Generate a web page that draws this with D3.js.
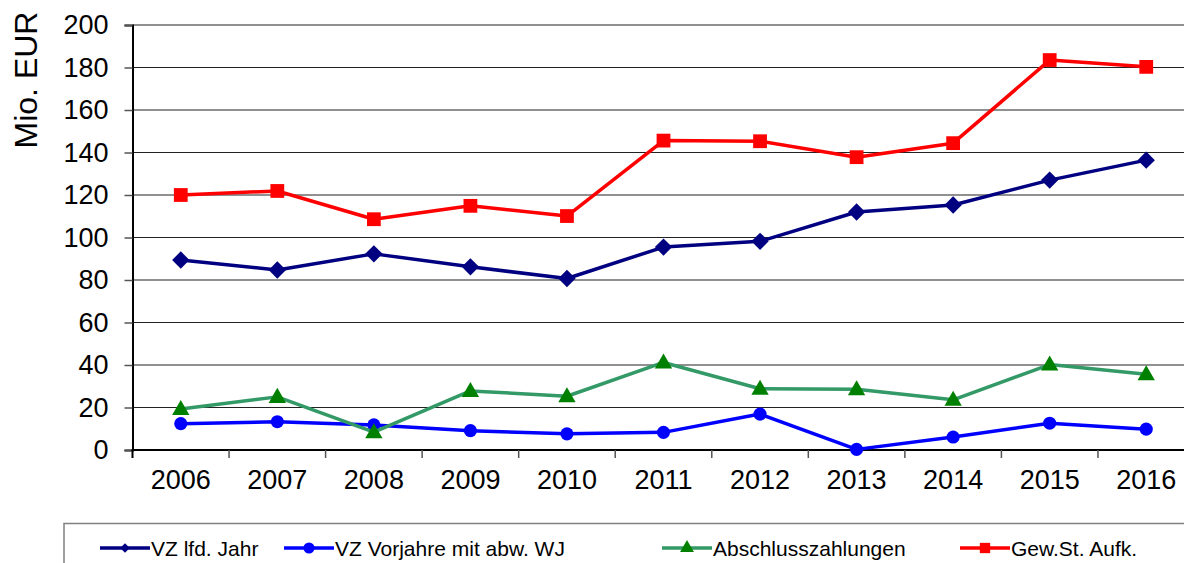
<!DOCTYPE html>
<html>
<head>
<meta charset="utf-8">
<script src="https://cdn.jsdelivr.net/npm/d3@7"></script>
<style>
  body { margin: 0; background: #fff; }
  svg { display: block; font-family: "Liberation Sans", Arial, sans-serif; }
</style>
</head>
<body>
<svg id="chart" width="1184" height="563"></svg>
<script>
const years = ["2006", "2007", "2008", "2009", "2010", "2011", "2012", "2013", "2014", "2015", "2016"];
const vzLfdJahr = [89.4, 84.7, 92.3, 86.2, 80.7, 95.5, 98.2, 112, 115.3, 127, 136.4];
const vzVorjahre = [12.4, 13.3, 11.8, 9.1, 7.6, 8.3, 16.9, 0.3, 6.1, 12.6, 9.8];
const abschluss = [19.3, 25, 8.4, 27.8, 25.3, 41.2, 28.8, 28.6, 23.6, 40.2, 35.7];
const gewSt = [120, 121.9, 108.6, 114.9, 110.1, 145.6, 145.3, 137.8, 144.4, 183.5, 180.3];
const yTicks = [0, 20, 40, 60, 80, 100, 120, 140, 160, 180, 200];
const seriesNames = ["VZ lfd. Jahr", "VZ Vorjahre mit abw. WJ", "Abschlusszahlungen", "Gew.St. Aufk."];

const series = [
  { name: seriesNames[0], values: vzLfdJahr, line: "#000080", fill: "#000080", shape: "diamond" },
  { name: seriesNames[1], values: vzVorjahre, line: "#0000ff", fill: "#0000ff", shape: "circle" },
  { name: seriesNames[2], values: abschluss, line: "#339966", fill: "#008000", shape: "triangle" },
  { name: seriesNames[3], values: gewSt, line: "#ff0000", fill: "#ff0000", shape: "square" }
];

const svg = d3.select("#chart");
const plotLeft = 132.5, plotRight = 1194.5, plotTop = 25, plotBottom = 450;

const x = d3.scaleBand().domain(years).range([plotLeft, plotRight]).padding(0);
const y = d3.scaleLinear().domain([0, 200]).range([plotBottom, plotTop]);
const cx = (d) => x(d) + x.bandwidth() / 2;

// gridlines
svg.append("g")
  .selectAll("line")
  .data(yTicks.filter((t) => t > 0))
  .enter()
  .append("line")
  .attr("x1", plotLeft)
  .attr("x2", plotRight)
  .attr("y1", (d) => y(d))
  .attr("y2", (d) => y(d))
  .attr("stroke", "#222")
  .attr("stroke-width", 1.2);

// y axis
const yAxis = svg.append("g")
  .attr("transform", `translate(${plotLeft},0)`)
  .call(d3.axisLeft(y).tickValues(yTicks).tickSize(8).tickPadding(16));
yAxis.select(".domain").attr("stroke", "#000").attr("stroke-width", 2);
yAxis.selectAll(".tick line").attr("stroke", "#555").attr("stroke-width", 1.5);
yAxis.selectAll("text")
  .attr("font-size", 27)
  .attr("font-family", "Liberation Sans, Arial, sans-serif")
  .attr("fill", "#000");

// x axis: labels centred, tick marks between categories
const xAxis = svg.append("g")
  .attr("transform", `translate(0,${plotBottom})`)
  .call(d3.axisBottom(x).tickSize(0).tickPadding(20));
xAxis.select(".domain").remove();
xAxis.selectAll("text")
  .attr("font-size", 27)
  .attr("font-family", "Liberation Sans, Arial, sans-serif")
  .attr("fill", "#000");

svg.append("line")
  .attr("x1", plotLeft - 1)
  .attr("x2", plotRight)
  .attr("y1", plotBottom)
  .attr("y2", plotBottom)
  .attr("stroke", "#000")
  .attr("stroke-width", 2);

svg.append("g")
  .selectAll("line")
  .data(years)
  .enter()
  .append("line")
  .attr("x1", (d) => x(d) + x.bandwidth())
  .attr("x2", (d) => x(d) + x.bandwidth())
  .attr("y1", plotBottom)
  .attr("y2", plotBottom + 8)
  .attr("stroke", "#555")
  .attr("stroke-width", 1.5);
svg.append("line")
  .attr("x1", plotLeft)
  .attr("x2", plotLeft)
  .attr("y1", plotBottom)
  .attr("y2", plotBottom + 8)
  .attr("stroke", "#000")
  .attr("stroke-width", 2);

// axis title
svg.append("text")
  .attr("transform", "translate(37,80) rotate(-90)")
  .attr("text-anchor", "middle")
  .attr("font-size", 32)
  .attr("fill", "#000")
  .text("Mio. EUR");

function markerPath(shape, scale) {
  const k = scale || 1;
  if (shape === "diamond") return d3.symbol().type(d3.symbolSquare).size(150 * k * k)();
  if (shape === "circle") return d3.symbol().type(d3.symbolCircle).size(135 * k * k)();
  if (shape === "triangle") return d3.symbol().type(d3.symbolTriangle).size(130 * k * k)();
  return d3.symbol().type(d3.symbolSquare).size(190 * k * k)();
}

const line = d3.line()
  .x((d, i) => cx(years[i]))
  .y((d) => y(d));

series.forEach((s) => {
  svg.append("path")
    .datum(s.values)
    .attr("fill", "none")
    .attr("stroke", s.line)
    .attr("stroke-width", 3.5)
    .attr("stroke-linejoin", "round")
    .attr("d", line);

  svg.append("g")
    .selectAll("path")
    .data(s.values)
    .enter()
    .append("path")
    .attr("d", markerPath(s.shape))
    .attr("fill", s.fill)
    .attr("transform", (d, i) =>
      `translate(${cx(years[i])},${y(d) + (s.shape === "triangle" ? 1 : 0)})` +
      (s.shape === "diamond" ? " rotate(45)" : ""));
});

// legend
const legendX = [100, 284, 662, 960];
const legendY = 548;
svg.append("rect")
  .attr("x", 64)
  .attr("y", 523.5)
  .attr("width", 1140)
  .attr("height", 60)
  .attr("fill", "none")
  .attr("stroke", "#808080")
  .attr("stroke-width", 1.5);

const legendScale = [0.55, 0.85, 0.8, 0.75];
const item = svg.append("g")
  .selectAll("g")
  .data(series)
  .enter()
  .append("g")
  .attr("transform", (d, i) => `translate(${legendX[i]},${legendY})`);
item.append("line")
  .attr("x1", 0)
  .attr("x2", 50)
  .attr("stroke", (d) => d.line)
  .attr("stroke-width", 3.5);
item.append("path")
  .attr("d", (d, i) => markerPath(d.shape, legendScale[i]))
  .attr("fill", (d) => d.fill)
  .attr("transform", (d) => "translate(25,0)" + (d.shape === "diamond" ? " rotate(45)" : ""));
item.append("text")
  .attr("x", 51)
  .attr("y", 8)
  .attr("font-size", 21)
  .attr("fill", "#000")
  .text((d) => d.name);
</script>
</body>
</html>
